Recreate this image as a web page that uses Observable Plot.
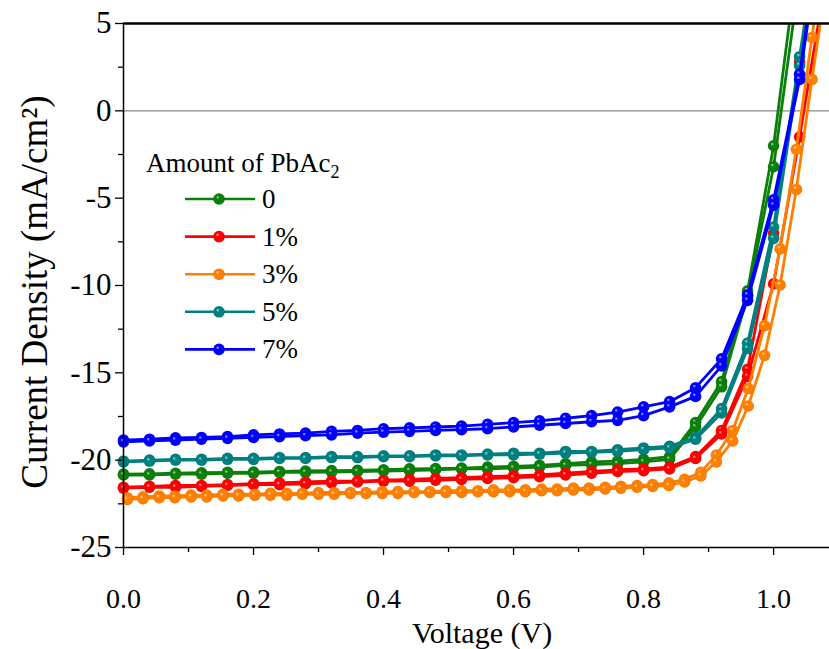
<!DOCTYPE html>
<html><head><meta charset="utf-8">
<script src="https://cdn.jsdelivr.net/npm/d3@7"></script>
<script src="https://cdn.jsdelivr.net/npm/@observablehq/plot@0.6"></script>
<style>body{margin:0;background:#fff} #chart{width:829px;height:649px;position:relative}</style>
</head><body><div id="chart"></div>
<script>
// ---- data ----
const seriesNames = ["0", "1%", "3%", "5%", "7%"];
const seriesColors = ["#0a800a", "#ff0000", "#ff8000", "#008080", "#0000ff"];
const legendTitle = "Amount of PbAc";
const legendTitleSub = "2";
const xLabel = "Voltage (V)";
const yLabel = "Current Density (mA/cm\u00B2)";
const xTicksMajor = [0, 0.2, 0.4, 0.6, 0.8, 1.0];
const xTicksMinor = [0.1, 0.3, 0.5, 0.7, 0.9];
const yTicksMajor = [-25, -20, -15, -10, -5, 0, 5];
const yTicksMinor = [-22.5, -17.5, -12.5, -7.5, -2.5, 2.5];

const voltage = [0, 0.04, 0.08, 0.12, 0.16, 0.2, 0.24, 0.28, 0.32, 0.36, 0.4, 0.44, 0.48, 0.52, 0.56, 0.6, 0.64, 0.68, 0.72, 0.76, 0.8, 0.84, 0.88, 0.92, 0.96, 1.0, 1.04, 1.08];
const voltageOrange = [0.006, 0.030, 0.055, 0.079, 0.104, 0.128, 0.153, 0.177, 0.202, 0.226, 0.251, 0.275, 0.300, 0.324, 0.349, 0.373, 0.398, 0.422, 0.447, 0.471, 0.496, 0.520, 0.545, 0.569, 0.594, 0.618, 0.643, 0.667, 0.692, 0.716, 0.741, 0.765, 0.790, 0.814, 0.839, 0.863, 0.888, 0.912, 0.937, 0.961, 0.986, 1.010, 1.035, 1.059, 1.084];

const j0a = [-20.8, -20.78, -20.75, -20.72, -20.7, -20.68, -20.65, -20.62, -20.6, -20.58, -20.55, -20.5, -20.48, -20.45, -20.4, -20.35, -20.3, -20.2, -20.1, -20.05, -19.95, -19.8, -17.85, -15.5, -10.3, -2.0, 9.6, 20];
const j0b = [-20.85, -20.85, -20.8, -20.8, -20.75, -20.75, -20.7, -20.7, -20.68, -20.65, -20.62, -20.6, -20.55, -20.5, -20.5, -20.45, -20.4, -20.3, -20.25, -20.2, -20.1, -19.95, -18.1, -15.8, -10.6, -3.2, 7.7, 18];
const j1a = [-21.55, -21.5, -21.45, -21.45, -21.4, -21.35, -21.3, -21.25, -21.2, -21.2, -21.15, -21.1, -21.05, -21.0, -20.95, -20.9, -20.85, -20.75, -20.65, -20.55, -20.5, -20.4, -19.8, -18.3, -14.8, -7.0, 2.8, 13];
const j1b = [-21.6, -21.55, -21.55, -21.5, -21.45, -21.4, -21.4, -21.35, -21.3, -21.25, -21.2, -21.2, -21.15, -21.1, -21.05, -21.0, -20.95, -20.85, -20.75, -20.65, -20.6, -20.5, -19.9, -18.5, -15.2, -9.9, -1.5, 7.5];
const j3a = [-22.15, -22.1, -22.05, -22.05, -22.0, -22.0, -21.95, -21.95, -21.95, -21.9, -21.9, -21.9, -21.85, -21.85, -21.85, -21.85, -21.8, -21.8, -21.8, -21.8, -21.75, -21.75, -21.75, -21.7, -21.7, -21.7, -21.65, -21.65, -21.6, -21.6, -21.55, -21.5, -21.45, -21.4, -21.3, -21.1, -20.7, -19.7, -18.3, -15.9, -12.3, -7.9, -2.2, 4.2, 11];
const j3b = [-22.25, -22.2, -22.15, -22.15, -22.1, -22.1, -22.05, -22.05, -22.0, -22.0, -22.0, -21.95, -21.95, -21.95, -21.9, -21.9, -21.9, -21.9, -21.85, -21.85, -21.85, -21.85, -21.8, -21.8, -21.8, -21.8, -21.75, -21.75, -21.7, -21.7, -21.65, -21.6, -21.55, -21.5, -21.45, -21.25, -20.9, -20.1, -18.9, -16.9, -14.0, -9.97, -4.5, 1.8, 8.0];
const j5a = [-20.05, -20.0, -19.95, -19.95, -19.9, -19.9, -19.85, -19.85, -19.8, -19.8, -19.75, -19.75, -19.7, -19.7, -19.65, -19.6, -19.6, -19.5, -19.5, -19.4, -19.3, -19.2, -18.7, -17.05, -13.3, -6.65, 3.1, 13.0];
const j5b = [-20.1, -20.05, -20.0, -20.0, -19.95, -19.95, -19.9, -19.9, -19.85, -19.85, -19.8, -19.8, -19.75, -19.75, -19.7, -19.7, -19.65, -19.6, -19.55, -19.5, -19.4, -19.3, -18.8, -17.3, -13.6, -7.3, 2.6, 12.5];
const j7a = [-18.85, -18.8, -18.72, -18.7, -18.65, -18.55, -18.5, -18.45, -18.35, -18.3, -18.2, -18.15, -18.1, -18.05, -17.95, -17.85, -17.75, -17.6, -17.45, -17.25, -16.95, -16.65, -15.85, -14.2, -10.55, -5.1, 2.1, 12.5];
const j7b = [-18.95, -18.9, -18.85, -18.8, -18.75, -18.7, -18.65, -18.6, -18.55, -18.45, -18.4, -18.35, -18.3, -18.25, -18.2, -18.1, -18.0, -17.9, -17.8, -17.72, -17.45, -16.95, -16.35, -14.6, -10.85, -5.4, 1.8, 12.0];

const scans = [
  [seriesNames[0], voltage, j0a, j0b],
  [seriesNames[1], voltage, j1a, j1b],
  [seriesNames[2], voltageOrange, j3a, j3b],
  [seriesNames[3], voltage, j5a, j5b],
  [seriesNames[4], voltage, j7a, j7b]
];

const rows = [];
scans.forEach(([name, vs, ja, jb]) => {
  [["fwd", ja], ["rev", jb]].forEach(([scan, js]) => {
    const n = Math.min(vs.length, js.length);
    for (let i = 0; i < n; i++) rows.push({series: name, scan, V: vs[i], J: js[i]});
  });
});

// ---- layout ----
const W = 829, H = 649;
const mL = 123, mR = 0, mT = 23, mB = 102;
const FONT = "'Liberation Serif', 'Times New Roman', serif";
const R = 5.8;

const marks = [
  Plot.ruleY([0], {stroke: "#8a8a8a", strokeWidth: 1.3}),
];
seriesNames.forEach((name, i) => {
  const d = rows.filter(r => r.series === name);
  marks.push(Plot.line(d, {x: "V", y: "J", z: "scan", stroke: seriesColors[i], strokeWidth: 2.8, clip: true}));
  marks.push(Plot.dot(d.filter(r => r.J <= 5.5), {x: "V", y: "J", r: R, fill: `url(#ball-${i})`, stroke: "none"}));
});
marks.push(
  Plot.ruleX([0], {stroke: "#000", strokeWidth: 1.5}),
  Plot.ruleY([-25], {stroke: "#000", strokeWidth: 1.5}),
  Plot.ruleY([5], {stroke: "#000", strokeWidth: 2.4}),
  Plot.axisX({ticks: xTicksMajor, tickSize: 8, tickPadding: 33, fontSize: 28, tickFormat: d3.format(".1f"), label: null, strokeWidth: 1.3}),
  Plot.axisX({ticks: xTicksMinor, tickSize: 5, tickFormat: () => "", label: null, strokeWidth: 1.3}),
  Plot.axisY({ticks: yTicksMajor, tickSize: 8, tickPadding: 4, fontSize: 31, tickFormat: d => String(d), label: null, strokeWidth: 1.3}),
  Plot.axisY({ticks: yTicksMinor, tickSize: 5, tickFormat: () => "", label: null, strokeWidth: 1.3})
);

const chart = Plot.plot({
  width: W, height: H,
  marginLeft: mL, marginRight: mR, marginTop: mT, marginBottom: mB,
  x: {domain: [0, 1.086]},
  y: {domain: [-25, 5]},
  style: {fontFamily: FONT, fontSize: "28px", color: "#000", background: "#fff"},
  marks
});
document.getElementById("chart").appendChild(chart);

// ---- gradients for glossy markers ----
const svg = d3.select(chart.tagName.toLowerCase() === "svg" ? chart : chart.querySelector("svg"));
const defs = svg.insert("defs", ":first-child");
seriesColors.forEach((c, i) => {
  const base = d3.color(c);
  const g = defs.append("radialGradient").attr("id", `ball-${i}`)
    .attr("cx", "0.5").attr("cy", "0.5").attr("r", "0.55").attr("fx", "0.36").attr("fy", "0.32");
  g.append("stop").attr("offset", "0").attr("stop-color", d3.interpolateRgb(c, "#fff")(0.75));
  g.append("stop").attr("offset", "0.28").attr("stop-color", c);
  g.append("stop").attr("offset", "0.8").attr("stop-color", c);
  g.append("stop").attr("offset", "1").attr("stop-color", base.darker(0.6).formatHex());
});

// ---- axis titles ----
svg.append("text").attr("x", 482).attr("y", 643).attr("text-anchor", "middle")
  .attr("font-family", FONT).attr("font-size", 30).attr("fill", "#000").text(xLabel);
svg.append("text").attr("transform", "translate(47,292) rotate(-90)").attr("text-anchor", "middle")
  .attr("font-family", FONT).attr("font-size", 37).attr("fill", "#000").text(yLabel);

// ---- legend ----
const lg = svg.append("g").attr("text-anchor", "start");
const t = lg.append("text").attr("x", 146).attr("y", 172).attr("text-anchor", "start")
  .attr("font-family", FONT).attr("font-size", 27).attr("fill", "#000");
t.append("tspan").text(legendTitle);
t.append("tspan").attr("font-size", 18).attr("dy", 6).text(legendTitleSub);
seriesNames.forEach((name, i) => {
  const y = 199 + i * 37.6;
  lg.append("line").attr("x1", 185).attr("x2", 255).attr("y1", y).attr("y2", y)
    .attr("stroke", seriesColors[i]).attr("stroke-width", 2.6);
  lg.append("circle").attr("cx", 219).attr("cy", y).attr("r", R).attr("fill", `url(#ball-${i})`);
  lg.append("text").attr("x", 262).attr("y", y + 9).attr("text-anchor", "start")
    .attr("font-family", FONT).attr("font-size", 27).attr("fill", "#000").text(name);
});
</script>
</body></html>
